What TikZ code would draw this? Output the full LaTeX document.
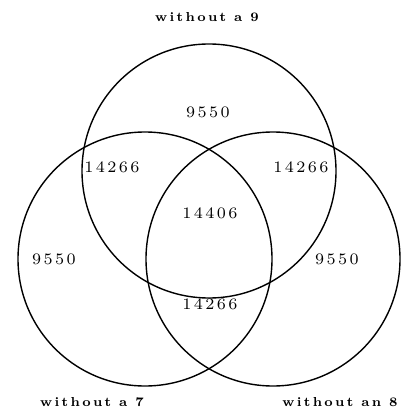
\documentclass[tikz,border=0pt]{standalone}
\usepackage{fontspec}
\newfontfamily\numfont[LetterSpace=15]{lmroman7-regular.otf}
\newfontfamily\labfont[LetterSpace=18]{lmroman7-bold.otf}
\begin{document}
\begin{tikzpicture}[x=1pt,y=-1pt,
  ring/.style={draw, line width=1.4pt},
  num/.style={font=\numfont\fontsize{16}{18}\selectfont, inner sep=0pt},
  lab/.style={font=\labfont\fontsize{13}{15}\selectfont, inner sep=0pt}]
\useasboundingbox (0,0) rectangle (402,409);
\node[ring, circle, minimum size=254pt, inner sep=0pt] (top) at (209,171) {};
\node[ring, circle, minimum size=254pt, inner sep=0pt] (left) at (145,259) {};
\node[ring, circle, minimum size=254pt, inner sep=0pt] (right) at (273,259) {};
\node[lab] (l9) at (207,17) {without a 9};
\node[lab] (l7) at (92,402) {without a 7};
\node[lab] (l8) at (340,402) {without an 8};
\node[num] (n1) at (208,112) {9550};
\node[num] (n2) at (112,167) {14266};
\node[num] (n3) at (301,167) {14266};
\node[num] (n4) at (210,213) {14406};
\node[num] (n5) at (54,259) {9550};
\node[num] (n6) at (337,259) {9550};
\node[num] (n7) at (210,304) {14266};
\end{tikzpicture}
\end{document}
